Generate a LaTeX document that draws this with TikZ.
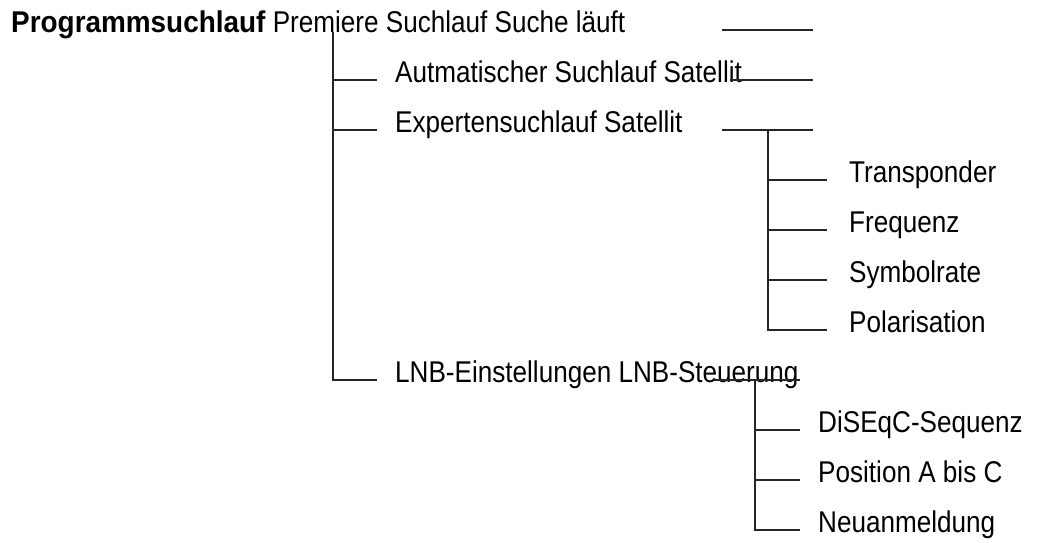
\documentclass[tikz,border=0pt]{standalone}
\usepackage{fontspec}
\setmainfont{Liberation Sans}[FakeStretch=0.87, BoldFeatures={FakeStretch=0.93}]
\usepackage{tikz}
\usetikzlibrary{calc, positioning}

\begin{document}
\begin{tikzpicture}[
		x=1pt, y=-1pt,
		entry/.style={anchor=mid west, inner sep=0pt, font=\fontsize{30}{36}\selectfont},
		branch/.style={line width=1.6pt, draw=black!85},
		]
	\useasboundingbox (0,0) rectangle (1046,543);

	% --- Texte ---
	\node[entry] (prog) at (11, 30) {\textbf{Programmsuchlauf} Premiere Suchlauf Suche läuft};
	\node[entry] (auto) at (395, 80) {Autmatischer Suchlauf Satellit};
	\node[entry] (expert) at (395, 130) {Expertensuchlauf Satellit};
	\node[entry] (lnb) at (395, 380) {LNB-Einstellungen LNB-Steuerung};

	\node[entry] (trans) at (849, 180) {Transponder};
	\node[entry] (freq) at (849, 230) {Frequenz};
	\node[entry] (symb) at (849, 280) {Symbolrate};
	\node[entry] (polar) at (849, 330) {Polarisation};

	\node[entry] (diseqc) at (818, 430) {DiSEqC-Sequenz};
	\node[entry] (pos) at (818, 480) {Position A bis C};
	\node[entry] (neu) at (818, 530) {Neuanmeldung};

	% --- Endpunkte der Linien ---
	\coordinate (e0) at (813, 30);
	\coordinate (s0) at (722, 30);
	\coordinate (e1) at (813, 80);
	\coordinate (s1) at (730, 80);
	\coordinate (e2) at (813, 130);
	\coordinate (s2) at (722, 130);
	\coordinate (e3) at (800, 380);
	\coordinate (s3) at (713, 380);

	\coordinate (v1) at (333, 32);
	\coordinate (v2) at (768, 130);
	\coordinate (v3) at (755, 380);

	% --- Stummel rechts ---
	\draw[branch] (s0) -- (e0);
	\draw[branch] (s1) -- (e1);
	\draw[branch] (s2) -- (e2);
	\draw[branch] (s3) -- (e3);

	% --- erste Ebene ---
	\draw[branch] (v1) |- ([xshift=-18pt]lnb.mid west);
	\foreach \n in {auto, expert}
		\draw[branch] (v1 |- \n.mid west) -- ([xshift=-18pt]\n.mid west);

	% --- Expertensuchlauf ---
	\draw[branch] (v2) |- ([xshift=-22pt]polar.mid west);
	\foreach \n in {trans, freq, symb}
		\draw[branch] (v2 |- \n.mid west) -- ([xshift=-22pt]\n.mid west);

	% --- LNB-Steuerung ---
	\draw[branch] (v3) |- ([xshift=-18pt]neu.mid west);
	\foreach \n in {diseqc, pos}
		\draw[branch] (v3 |- \n.mid west) -- ([xshift=-18pt]\n.mid west);

\end{tikzpicture}
\end{document}
